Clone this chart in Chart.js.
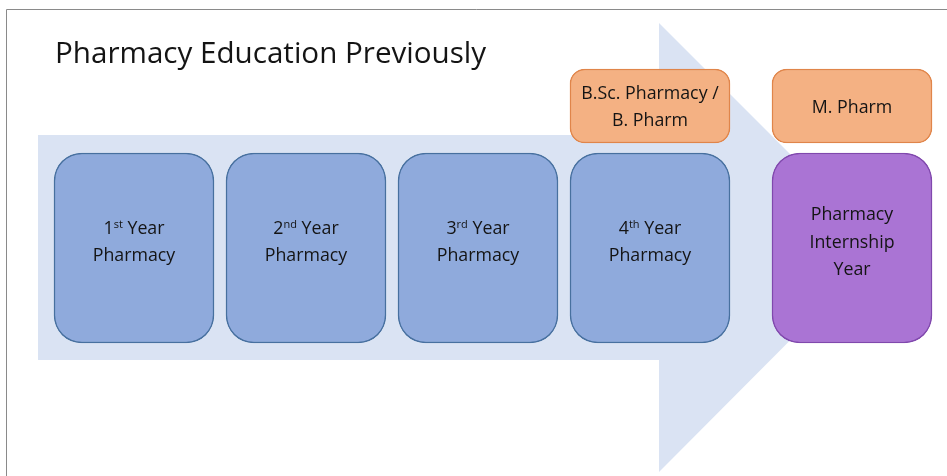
<!DOCTYPE html>
<html>
<head>
<meta charset="utf-8">
<script src="https://cdn.jsdelivr.net/npm/chart.js@4"></script>
<style>
  html, body { margin: 0; padding: 0; background: #fff; }
  #wrap { width: 947px; height: 476px; }
</style>
</head>
<body>
<div id="wrap"><canvas id="c" width="947" height="476"></canvas></div>
<script>
  // diagram laid out on a 0..947 x 0..476 value grid (y grows downward)
  const titleText = "Pharmacy Education Previously";

  // big boxes: centres, top/bottom, text
  const yearCentres = [134, 306, 478, 650, 852];
  const yearTop = 153;
  const yearBottom = 343;
  const yearNums = ["1", "2", "3", "4", null];
  const yearSups = ["st", "nd", "rd", "th", null];
  const yearLines = [
    ["Year", "Pharmacy"],
    ["Year", "Pharmacy"],
    ["Year", "Pharmacy"],
    ["Year", "Pharmacy"],
    ["Pharmacy", "Internship", "Year"],
  ];
  const yearFill = ["#8faadc", "#8faadc", "#8faadc", "#8faadc", "#aa74d4"];
  const yearEdge = ["#47709f", "#47709f", "#47709f", "#47709f", "#8048ad"];

  // degree boxes
  const degreeCentres = [650, 852];
  const degreeTop = 69;
  const degreeBottom = 143;
  const degreeLines = [["B.Sc. Pharmacy /", "B. Pharm"], ["M. Pharm"]];

  // background arrow outline, split along its axis
  const arrowUpperX = [38, 659, 659, 883];
  const arrowUpperY = [135, 135, 23, 247];
  const arrowLowerX = [38, 659, 659, 883];
  const arrowLowerY = [360, 360, 472, 247];
  const arrowAxis = 247;

  const FONT = "'Open Sans', 'Noto Sans', sans-serif";

  const framePlugin = {
    id: "frame",
    beforeDraw(chart) {
      const ctx = chart.ctx;
      ctx.save();
      ctx.fillStyle = "#fff";
      ctx.fillRect(0, 0, chart.width, chart.height);
      ctx.strokeStyle = "#8a8a8a";
      ctx.lineWidth = 1;
      ctx.beginPath();
      ctx.moveTo(6.5, chart.height);
      ctx.lineTo(6.5, 9.5);
      ctx.lineTo(chart.width, 9.5);
      ctx.stroke();
      ctx.restore();
    },
  };

  function drawLines(ctx, cx, baseY, lines, num, sup) {
    const pitch = 27.5;
    const n = lines.length;
    lines.forEach((txt, i) => {
      const y = baseY + (i - (n - 1) / 2) * pitch;
      if (i === 0 && num) {
        ctx.font = "17.8px " + FONT;
        const wNum = ctx.measureText(num).width;
        const wRest = ctx.measureText(" " + txt).width;
        ctx.font = "11px " + FONT;
        const wSup = ctx.measureText(sup).width;
        let x = cx - (wNum + wSup + wRest) / 2;
        ctx.textAlign = "left";
        ctx.font = "17.8px " + FONT;
        ctx.fillText(num, x, y);
        x += wNum;
        ctx.font = "11px " + FONT;
        ctx.fillText(sup, x, y - 6);
        x += wSup;
        ctx.font = "17.8px " + FONT;
        ctx.fillText(" " + txt, x, y);
      } else {
        ctx.font = "17.8px " + FONT;
        ctx.textAlign = "center";
        ctx.fillText(txt, cx, y);
      }
    });
  }

  const labelPlugin = {
    id: "boxLabels",
    afterDatasetsDraw(chart) {
      const ctx = chart.ctx;
      const xs = chart.scales.x;
      const ys = chart.scales.y;
      ctx.save();
      ctx.fillStyle = "#141414";
      ctx.textBaseline = "alphabetic";

      ctx.font = "29.6px " + FONT;
      ctx.textAlign = "left";
      ctx.fillText(titleText, xs.getPixelForValue(55), ys.getPixelForValue(63));

      yearCentres.forEach((c, i) => {
        const mid = ys.getPixelForValue((yearTop + yearBottom) / 2) + 6.5 - 7;
        drawLines(ctx, xs.getPixelForValue(c), mid, yearLines[i], yearNums[i], yearSups[i]);
      });
      degreeCentres.forEach((c, i) => {
        const mid = ys.getPixelForValue((degreeTop + degreeBottom) / 2) + 6.5;
        drawLines(ctx, xs.getPixelForValue(c), mid, degreeLines[i], null, null);
      });
      ctx.restore();
    },
  };

  new Chart(document.getElementById("c").getContext("2d"), {
    type: "bar",
    data: {
      datasets: [
        {
          type: "line",
          label: "arrow upper",
          data: arrowUpperX.map((x, i) => ({ x: x, y: arrowUpperY[i] })),
          fill: { value: arrowAxis },
          backgroundColor: "#dae3f3",
          borderWidth: 0,
          pointRadius: 0,
          tension: 0,
          order: 10,
        },
        {
          type: "line",
          label: "arrow lower",
          data: arrowLowerX.map((x, i) => ({ x: x, y: arrowLowerY[i] })),
          fill: { value: arrowAxis },
          backgroundColor: "#dae3f3",
          borderWidth: 0,
          pointRadius: 0,
          tension: 0,
          order: 10,
        },
        {
          label: "years",
          data: yearCentres.map((x) => ({ x: x, y: [yearTop, yearBottom] })),
          backgroundColor: yearFill,
          borderColor: yearEdge,
          borderWidth: 1.5,
          borderRadius: 28,
          borderSkipped: false,
          barThickness: 160,
          grouped: false,
          order: 1,
        },
        {
          label: "degrees",
          data: degreeCentres.map((x) => ({ x: x, y: [degreeTop, degreeBottom] })),
          backgroundColor: "#f4b183",
          borderColor: "#e0854a",
          borderWidth: 1.5,
          borderRadius: 15,
          borderSkipped: false,
          barThickness: 160,
          grouped: false,
          order: 1,
        },
      ],
    },
    options: {
      responsive: false,
      animation: false,
      devicePixelRatio: 1,
      layout: { padding: 0 },
      plugins: { legend: { display: false }, tooltip: { enabled: false }, title: { display: false } },
      scales: {
        x: { type: "linear", min: 0, max: 947, offset: false, display: false },
        y: { type: "linear", min: 0, max: 476, reverse: true, display: false },
      },
    },
    plugins: [framePlugin, labelPlugin],
  });
</script>
</body>
</html>
